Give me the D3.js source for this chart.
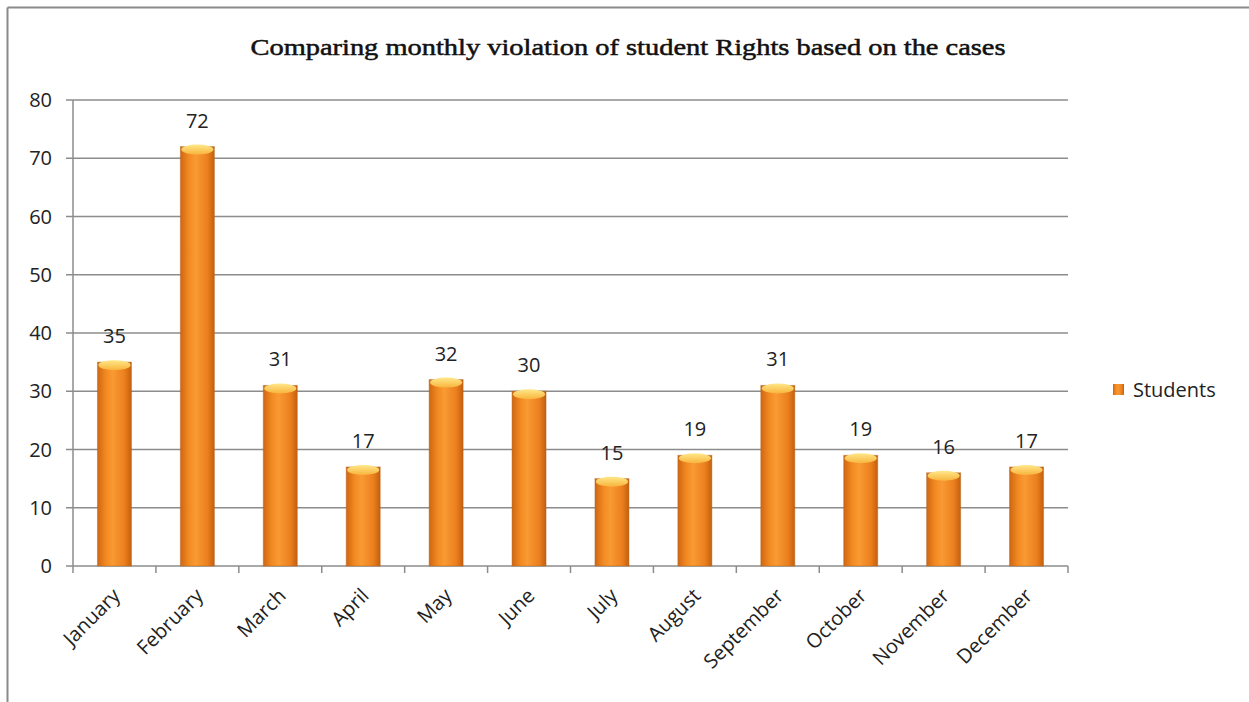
<html>
<head>
<script src="https://d3js.org/d3.v7.min.js" charset="utf-8"></script>
<style>
    body { margin: 0; background: #fff; }
    .axis-text { font-family: "Open Sans", sans-serif; font-size: 20px; fill: #222; }
    .value-label { font-family: "Open Sans", sans-serif; font-size: 20px; fill: #222; }
    .title { font-family: "Liberation Serif", serif; font-size: 23px; fill: #111; stroke: #111; stroke-width: 0.5px; }
</style>
</head>
<body>
<div id="vis_container"></div>
<script>
    // months and counts
    let months = ["January", "February", "March", "April", "May", "June",
        "July", "August", "September", "October", "November", "December"];
    let students = [35, 72, 31, 17, 32, 30, 15, 19, 31, 19, 16, 17];
    let yTicks = [0, 10, 20, 30, 40, 50, 60, 70, 80];
    let seriesName = "Students";
    let chartTitle = "Comparing monthly violation of student Rights based on the cases";

    let width = 1249, height = 702;
    let plotLeft = 73, plotRight = 1068, plotTop = 100, plotBottom = 566;

    let svg = d3.select("#vis_container").append("svg")
        .attr("width", width)
        .attr("height", height);

    let defs = svg.append("defs");
    let barGrad = defs.append("linearGradient").attr("id", "barGrad")
        .attr("x1", "0").attr("x2", "1").attr("y1", "0").attr("y2", "0");
    barGrad.append("stop").attr("offset", "0%").attr("stop-color", "#d06612");
    barGrad.append("stop").attr("offset", "25%").attr("stop-color", "#f28a22");
    barGrad.append("stop").attr("offset", "45%").attr("stop-color", "#f99a33");
    barGrad.append("stop").attr("offset", "80%").attr("stop-color", "#eb7f1e");
    barGrad.append("stop").attr("offset", "100%").attr("stop-color", "#c45f0e");

    let capGrad = defs.append("linearGradient").attr("id", "capGrad")
        .attr("x1", "0").attr("x2", "0").attr("y1", "0").attr("y2", "1");
    capGrad.append("stop").attr("offset", "0%").attr("stop-color", "#ffe88a");
    capGrad.append("stop").attr("offset", "100%").attr("stop-color", "#f8b43c");

    // frame (only left and top edges visible)
    svg.append("line").attr("x1", 7.5).attr("x2", 7.5).attr("y1", 7.5).attr("y2", height)
        .attr("stroke", "#8a8a8a").attr("stroke-width", 2);
    svg.append("line").attr("x1", 7.5).attr("x2", width).attr("y1", 7.5).attr("y2", 7.5)
        .attr("stroke", "#8a8a8a").attr("stroke-width", 2);

    let x = d3.scaleBand()
        .domain(months)
        .range([plotLeft, plotRight])
        .paddingInner(0.59)
        .paddingOuter(0.295);

    let y = d3.scaleLinear()
        .domain([0, 80])
        .range([plotBottom, plotTop]);

    // gridlines
    svg.append("g").selectAll("line")
        .data(yTicks)
        .enter().append("line")
        .attr("x1", plotLeft - 7).attr("x2", plotRight)
        .attr("y1", d => y(d)).attr("y2", d => y(d))
        .attr("stroke", "#8c8c8c").attr("stroke-width", 1.5);

    // y axis line and labels
    svg.append("line").attr("x1", plotLeft).attr("x2", plotLeft).attr("y1", plotTop).attr("y2", plotBottom)
        .attr("stroke", "#8c8c8c").attr("stroke-width", 1.5);
    svg.append("g").selectAll("text")
        .data(yTicks)
        .enter().append("text")
        .attr("class", "axis-text")
        .attr("x", 52)
        .attr("y", d => y(d))
        .attr("dy", "0.36em")
        .style("text-anchor", "end")
        .text(d => d);

    // x ticks at category boundaries
    let step = x.step();
    let boundaries = d3.range(months.length + 1).map(i => plotLeft + i * step);
    svg.append("g").selectAll("line")
        .data(boundaries)
        .enter().append("line")
        .attr("x1", d => d).attr("x2", d => d)
        .attr("y1", plotBottom).attr("y2", plotBottom + 7)
        .attr("stroke", "#8c8c8c").attr("stroke-width", 1.5);

    // bars
    let bars = svg.append("g").selectAll("g")
        .data(months)
        .enter().append("g");

    bars.append("rect")
        .attr("x", d => x(d))
        .attr("y", (d, i) => y(students[i]))
        .attr("width", x.bandwidth())
        .attr("height", (d, i) => plotBottom - y(students[i]))
        .attr("fill", "url(#barGrad)")
        .attr("stroke", "#b0621c")
        .attr("stroke-opacity", 0.45)
        .attr("stroke-width", 1);

    bars.append("ellipse")
        .attr("cx", d => x(d) + x.bandwidth() / 2)
        .attr("cy", (d, i) => y(students[i]) + 3)
        .attr("rx", x.bandwidth() / 2 - 1)
        .attr("ry", 5)
        .attr("fill", "url(#capGrad)");

    bars.append("text")
        .attr("class", "value-label")
        .attr("x", d => x(d) + x.bandwidth() / 2)
        .attr("y", (d, i) => y(students[i]) - 19)
        .style("text-anchor", "middle")
        .text((d, i) => students[i]);

    // rotated month labels
    svg.append("g").selectAll("text")
        .data(months)
        .enter().append("text")
        .attr("class", "axis-text")
        .attr("transform", d => "translate(" + (x(d) + x.bandwidth() / 2 + 2) + "," + (plotBottom + 26) + ") rotate(-45)")
        .style("text-anchor", "end")
        .attr("dy", "0.35em")
        .text(d => d);

    // title
    svg.append("text")
        .attr("class", "title")
        .attr("x", 628)
        .attr("y", 55)
        .style("text-anchor", "middle")
        .attr("textLength", 755)
        .attr("lengthAdjust", "spacingAndGlyphs")
        .text(chartTitle);

    // legend
    svg.append("rect")
        .attr("x", 1113).attr("y", 384)
        .attr("width", 11).attr("height", 11)
        .attr("fill", "url(#barGrad)");
    svg.append("text")
        .attr("class", "axis-text")
        .attr("x", 1133)
        .attr("y", 390)
        .attr("dy", "0.36em")
        .text(seriesName);
</script>
</body>
</html>
